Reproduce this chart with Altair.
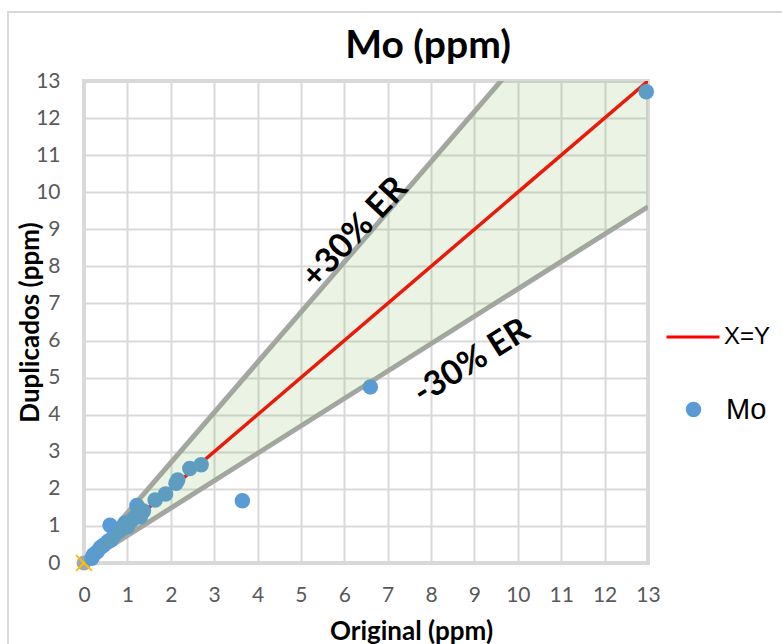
import altair as alt
import pandas as pd

# Mo duplicates: original vs duplicate (ppm)
orig = [0.18, 0.22, 0.30, 0.38, 0.45, 0.55, 0.62, 0.70, 0.78, 0.85, 0.95, 1.00, 1.08, 1.15,
        1.25, 1.30, 0.60, 0.95, 1.22, 1.29, 1.37, 1.64, 1.88, 2.12, 2.16, 2.44, 2.70, 3.65,
        6.60, 12.96]
dup = [0.13, 0.22, 0.30, 0.42, 0.48, 0.58, 0.62, 0.75, 0.84, 0.90, 1.05, 0.98, 1.12, 1.20,
       1.30, 1.25, 1.02, 1.08, 1.55, 1.43, 1.40, 1.70, 1.86, 2.15, 2.24, 2.55, 2.65, 1.68,
       4.75, 12.71]

# reference lines
xy_x = [0, 13]
ratio_hi = 2.3 / 1.7   # +30% ER
ratio_lo = 1.7 / 2.3   # -30% ER

origin_x = [0]
origin_y = [0]

er_text = ["+30% ER", "-30% ER"]
er_x = [6.25, 8.94]
er_y = [8.9, 5.42]

pts = pd.DataFrame({"x": orig, "y": dup, "s": "Mo"})
xy = pd.DataFrame({"x": xy_x, "y": xy_x, "s": "X=Y"})
hi = pd.DataFrame({"x": xy_x, "y": [v * ratio_hi for v in xy_x]})
lo = pd.DataFrame({"x": xy_x, "y": [v * ratio_lo for v in xy_x]})
band = pd.DataFrame({"x": xy_x, "y": [v * ratio_lo for v in xy_x], "hi": [v * ratio_hi for v in xy_x]})
org = pd.DataFrame({"x": origin_x, "y": origin_y})
er_hi = pd.DataFrame({"x": [er_x[0]], "y": [er_y[0]], "t": [er_text[0]]})
er_lo = pd.DataFrame({"x": [er_x[1]], "y": [er_y[1]], "t": [er_text[1]]})
frame = pd.DataFrame({"x": [0]})

FONT = "Lato"
ticks = list(range(14))

xs = alt.Scale(domain=[0, 13], nice=False, zero=False)
ys = alt.Scale(domain=[0, 13], nice=False, zero=False)

xax = alt.Axis(values=ticks, grid=True, gridColor="#d9d9d9", gridWidth=2, domain=False, ticks=False,
               labelFont=FONT, labelFontSize=21, labelColor="#595959", labelPadding=21,
               labelOverlap=False, labelFlush=False,
               title="Original (ppm)", titleFont=FONT, titleFontSize=26, titleFontWeight="bold",
               titleColor="black", titleX=327, titleY=68, titleBaseline="middle")
yax = alt.Axis(values=ticks, grid=True, gridColor="#d9d9d9", gridWidth=2, domain=False, ticks=False,
               labelFont=FONT, labelFontSize=21, labelColor="#595959", labelPadding=24,
               labelOverlap=False, labelFlush=False, tickCount=14,
               title="Duplicados (ppm)", titleFont=FONT, titleFontSize=26, titleFontWeight="bold",
               titleColor="black", titleX=-54, titleY=241, titleAngle=270, titleAlign="center",
               titleBaseline="middle")

X = alt.X("x:Q", scale=xs, axis=xax)
Y = alt.Y("y:Q", scale=ys, axis=yax)

border = alt.Chart(frame).mark_rect(fill=None, stroke="#d9d9d9", strokeWidth=2).encode(
    x=alt.value(-76), x2=alt.value(720), y=alt.value(-69), y2=alt.value(600))

red = alt.Chart(xy).mark_line(strokeWidth=3.5, clip=True).encode(
    x=X, y=Y,
    color=alt.Color("s:N", scale=alt.Scale(domain=["X=Y"], range=["#ff0000"]),
                    legend=alt.Legend(title=None, orient="none", legendX=581, legendY=228,
                                      symbolStrokeWidth=3, symbolSize=2809, labelFont="Liberation Sans",
                                      labelFontSize=24, labelColor="black", labelOffset=3, padding=0)))

gray_hi = alt.Chart(hi).mark_line(strokeWidth=5, color="#a6a6a6", clip=True).encode(x=X, y=Y)
gray_lo = alt.Chart(lo).mark_line(strokeWidth=5, color="#a6a6a6", clip=True).encode(x=X, y=Y)

org_c = alt.Chart(org).mark_circle(size=220, opacity=1, color="#a5a5a5").encode(x=X, y=Y)
org_x = alt.Chart(org).mark_point(shape="M-1,-1L1,1M-1,1L1,-1", filled=False, strokeWidth=2,
                                  size=250, color="#ffc000", opacity=1).encode(x=X, y=Y)

blue = alt.Chart(pts).mark_circle(size=240, opacity=1).encode(
    x=X, y=Y,
    fill=alt.Fill("s:N", scale=alt.Scale(domain=["Mo"], range=["#5b9bd5"]),
                  legend=alt.Legend(title=None, orient="none", legendX=595, legendY=314,
                                    symbolSize=240, labelFont="Liberation Sans", labelFontSize=29,
                                    labelColor="black", labelOffset=18, padding=0)))

area = alt.Chart(band).mark_area(color="#70ad47", opacity=0.15, clip=True).encode(
    x=X, y=Y, y2="hi:Q")

t_hi = alt.Chart(er_hi).mark_text(font=FONT, fontWeight="bold", fontSize=34, angle=313,
                                   color="black").encode(x=X, y=Y, text="t:N")
t_lo = alt.Chart(er_lo).mark_text(font=FONT, fontWeight="bold", fontSize=34, angle=328,
                                   color="black").encode(x=X, y=Y, text="t:N")

chart = alt.layer(red, gray_hi, gray_lo, org_c, org_x, blue, area, t_hi, t_lo, border).resolve_scale(
    color="independent", fill="independent"
).properties(
    width=564, height=482,
    padding={"left": 84, "top": 81, "right": 134, "bottom": 81},
    autosize=alt.AutoSizeParams(type="none"),
    title=alt.Title("Mo (ppm)", font=FONT, fontSize=39, fontWeight="bold", color="black",
                    anchor="middle", dx=62, offset=-55),
).configure_view(stroke="#d9d9d9", strokeWidth=4)

chart.save("out.html", embed_options={"renderer": "svg", "actions": False})
